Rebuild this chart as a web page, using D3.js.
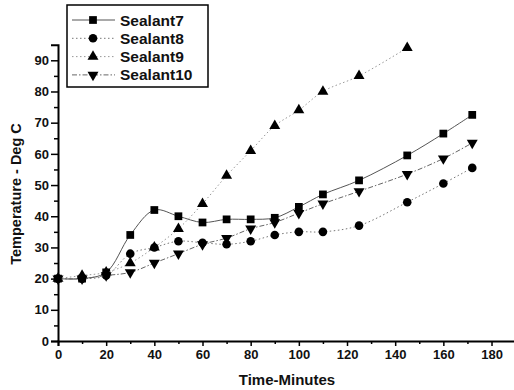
<!DOCTYPE html>
<html><head><meta charset="utf-8">
<script src="https://cdn.jsdelivr.net/npm/d3@7"></script>
<style>body{margin:0;background:#fff}svg{display:block;font-family:"Liberation Sans",Arial,sans-serif}</style>
</head><body>
<svg id="c" width="514" height="390"></svg>
<script>
const seriesNames = ["Sealant7","Sealant8","Sealant9","Sealant10"];
const s7x = [0,10,20,30,40,50,60,70,80,90,100,110,125,145,160,172];
const s7y = [20,20,22,34,42,40,38,39,39,39.5,43,47,51.5,59.5,66.5,72.5];
const s8x = [0,10,20,30,40,50,60,70,80,90,100,110,125,145,160,172];
const s8y = [20,20,21,28,30,32,31.5,31,32,34,35,35,37,44.5,50.5,55.5];
const s9x = [0,10,20,30,40,50,60,70,80,90,100,110,125,145];
const s9y = [20,21,22,25,30,36,44,53,61,69,74,80,85,94];
const s10x = [0,10,20,30,40,50,60,70,80,90,100,110,125,145,160,172];
const s10y = [20,20,21,22,25,28,31,33,36,38,41,44,48,53.5,58.5,63.5];
const xTicks = [0,20,40,60,80,100,120,140,160,180];
const yTicks = [0,10,20,30,40,50,60,70,80,90];

const svg = d3.select("#c");
const x = d3.scaleLinear().domain([0,190]).range([58,515.6]);
const y = d3.scaleLinear().domain([0,95]).range([341,44.7]);

const styles = [
  {stroke:"#555", dash:null, sym:d3.symbolSquare, size:60, rot:0},
  {stroke:"#777", dash:"1.5,2.5", sym:d3.symbolCircle, size:58, rot:0},
  {stroke:"#999", dash:"1.5,2.5", sym:d3.symbolTriangle, size:52, rot:0},
  {stroke:"#666", dash:"5,2,1.5,2", sym:d3.symbolTriangle, size:52, rot:180}
];
const data = [
  s7x.map((v,i)=>[v,s7y[i]]),
  s8x.map((v,i)=>[v,s8y[i]]),
  s9x.map((v,i)=>[v,s9y[i]]),
  s10x.map((v,i)=>[v,s10y[i]])
];

const line = d3.line().x(d=>x(d[0])).y(d=>y(d[1])).curve(d3.curveCatmullRom.alpha(0.5));

const xAxis = d3.axisBottom(x).tickValues(xTicks).tickSize(5).tickPadding(4).tickFormat(d3.format("d"));
const xMinor = d3.axisBottom(x).tickValues(d3.range(10,190,20)).tickSize(3).tickFormat("");
const yAxis = d3.axisLeft(y).tickValues(yTicks).tickSize(7).tickPadding(2).tickFormat(d3.format("d"));
const yMinor = d3.axisLeft(y).tickValues(d3.range(5,95,10)).tickSize(4).tickFormat("");

function styleAxis(g){
  g.select(".domain").attr("stroke","#000").attr("stroke-width",2);
  g.selectAll(".tick line").attr("stroke","#000").attr("stroke-width",1.5);
  g.selectAll(".tick text").attr("fill","#111").style("font-size","13px").style("font-weight","bold");
}
svg.append("g").attr("transform","translate(0,341)").call(xMinor).call(styleAxis).select(".domain").remove();
svg.append("g").attr("transform","translate(58,0)").call(yMinor).call(styleAxis).select(".domain").remove();
svg.append("g").attr("transform","translate(0,341)").call(xAxis).call(styleAxis);
svg.append("g").attr("transform","translate(58,0)").call(yAxis).call(styleAxis);

data.forEach((d,i)=>{
  const st = styles[i];
  svg.append("path").datum(d).attr("d",line).attr("fill","none")
    .attr("stroke",st.stroke).attr("stroke-width",1)
    .attr("stroke-dasharray",st.dash);
  svg.append("g").selectAll("path").data(d).join("path")
    .attr("d",d3.symbol().type(st.sym).size(st.size))
    .attr("transform",p=>`translate(${x(p[0])},${y(p[1])}) rotate(${st.rot})`)
    .attr("fill","#000");
});

svg.append("text").attr("x",287).attr("y",385).attr("text-anchor","middle")
  .style("font-size","15px").style("font-weight","bold").attr("fill","#111").text("Time-Minutes");
svg.append("text").attr("transform","translate(21,194) rotate(-90)").attr("text-anchor","middle")
  .style("font-size","14.5px").style("font-weight","bold").attr("fill","#111").text("Temperature - Deg C");

const lg = svg.append("g");
lg.append("rect").attr("x",67).attr("y",5).attr("width",141).attr("height",82)
  .attr("fill","#fff").attr("stroke","#000").attr("stroke-width",1.5);
seriesNames.forEach((n,i)=>{
  const st = styles[i];
  const yy = 20 + i*18.3;
  lg.append("line").attr("x1",72).attr("x2",115).attr("y1",yy).attr("y2",yy)
    .attr("stroke",st.stroke).attr("stroke-width",1).attr("stroke-dasharray",st.dash);
  lg.append("path").attr("d",d3.symbol().type(st.sym).size(st.size))
    .attr("transform",`translate(93,${yy}) rotate(${st.rot})`).attr("fill","#000");
  lg.append("text").attr("x",120).attr("y",yy+5.5).style("font-size","15.5px").style("font-weight","bold")
    .attr("fill","#111").text(n);
});
</script>
</body></html>
